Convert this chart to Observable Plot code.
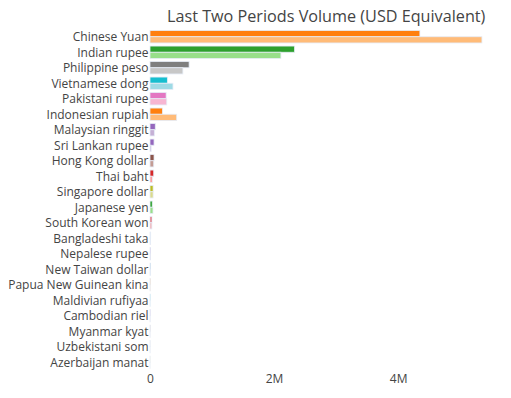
<!DOCTYPE html>
<html>
<head>
<meta charset="utf-8">
<script src="https://cdn.jsdelivr.net/npm/d3@7"></script>
<script src="https://cdn.jsdelivr.net/npm/@observablehq/plot@0.6"></script>
<style>
  html, body { margin: 0; padding: 0; background: #fff; }
  body { width: 511px; height: 398px; overflow: hidden; font-family: "Open Sans", sans-serif; }
  #title { height: 29px; position: relative; }
  #title span { position: absolute; left: 167px; top: 6px; font-size: 16.2px; color: #444; white-space: nowrap; line-height: 20px; }
  svg { display: block; }
</style>
</head>
<body>
<div id="title"><span>Last Two Periods Volume (USD Equivalent)</span></div>
<div id="chart"></div>
<script>
// ---- data ----
const currencies = [
  "Chinese Yuan", "Indian rupee", "Philippine peso", "Vietnamese dong", "Pakistani rupee",
  "Indonesian rupiah", "Malaysian ringgit", "Sri Lankan rupee", "Hong Kong dollar", "Thai baht",
  "Singapore dollar", "Japanese yen", "South Korean won", "Bangladeshi taka", "Nepalese rupee",
  "New Taiwan dollar", "Papua New Guinean kina", "Maldivian rufiyaa", "Cambodian riel",
  "Myanmar kyat", "Uzbekistani som", "Azerbaijan manat"
];
const currentPeriod = [
  4350000, 2330000, 630000, 280000, 260000,
  200000, 85000, 65000, 65000, 60000,
  50000, 37000, 32000, 11000, 8000,
  5000, 4000, 3000, 3000, 2000, 1000, 1000
];
const previousPeriod = [
  5350000, 2110000, 530000, 370000, 270000,
  430000, 70000, 18000, 60000, 37000,
  50000, 48000, 30000, 10000, 8000,
  5000, 3000, 2000, 2000, 1000, 1000, 500
];
const xTicks = [0, 2000000, 4000000];

// ---- styles ----
const darkColors = {
  "Chinese Yuan": "#ff7f0e", "Indian rupee": "#2ca02c", "Philippine peso": "#7f7f7f",
  "Vietnamese dong": "#17becf", "Pakistani rupee": "#e377c2", "Indonesian rupiah": "#ff7f0e",
  "Malaysian ringgit": "#9467bd", "Sri Lankan rupee": "#9467bd", "Hong Kong dollar": "#8c564b",
  "Thai baht": "#d62728", "Singapore dollar": "#bcbd22", "Japanese yen": "#2ca02c",
  "South Korean won": "#e0606a", "Bangladeshi taka": "#e377c2", "Nepalese rupee": "#9467bd",
  "New Taiwan dollar": "#1f77b4", "Papua New Guinean kina": "#ff7f0e", "Maldivian rufiyaa": "#17becf",
  "Cambodian riel": "#9467bd", "Myanmar kyat": "#8c564b", "Uzbekistani som": "#7f7f7f",
  "Azerbaijan manat": "#bcbd22"
};
const lightColors = {
  "#ff7f0e": "#ffbb78", "#2ca02c": "#98df8a", "#7f7f7f": "#c7c7c7", "#17becf": "#9edae5",
  "#e377c2": "#f7b6d2", "#9467bd": "#c5b0d5", "#8c564b": "#c49c94", "#d62728": "#ff9896",
  "#bcbd22": "#dbdb8d", "#1f77b4": "#aec7e8", "#e0606a": "#f4a3a8"
};

const rows = currencies.map((c, i) => ({currency: c, current: currentPeriod[i], previous: previousPeriod[i]}));

const chart = Plot.plot({
  width: 511,
  height: 369,
  marginLeft: 150,
  marginRight: 21,
  marginTop: 0,
  marginBottom: 28,
  style: {fontFamily: "Open Sans, sans-serif", fontSize: "12px", color: "#444", background: "#fff"},
  x: {domain: [0, 5480000], ticks: xTicks, tickFormat: d => d === 0 ? "0" : (d / 1e6) + "M", label: null, tickSize: 0, tickPadding: 4},
  y: {domain: currencies, paddingInner: 0.2, paddingOuter: 0.1, round: false, label: null, tickSize: 0, tickPadding: 2},
  marks: [
    Plot.barX(rows, {y: "currency", x: "current", fill: d => darkColors[d.currency],
      insetTop: 0, insetBottom: 6.2, stroke: "#E5ECF6", strokeWidth: 0.8}),
    Plot.barX(rows, {y: "currency", x: "previous", fill: d => lightColors[darkColors[d.currency]],
      insetTop: 6.2, insetBottom: 0, stroke: "#E5ECF6", strokeWidth: 0.8})
  ]
});
document.getElementById("chart").appendChild(chart);
</script>
</body>
</html>
